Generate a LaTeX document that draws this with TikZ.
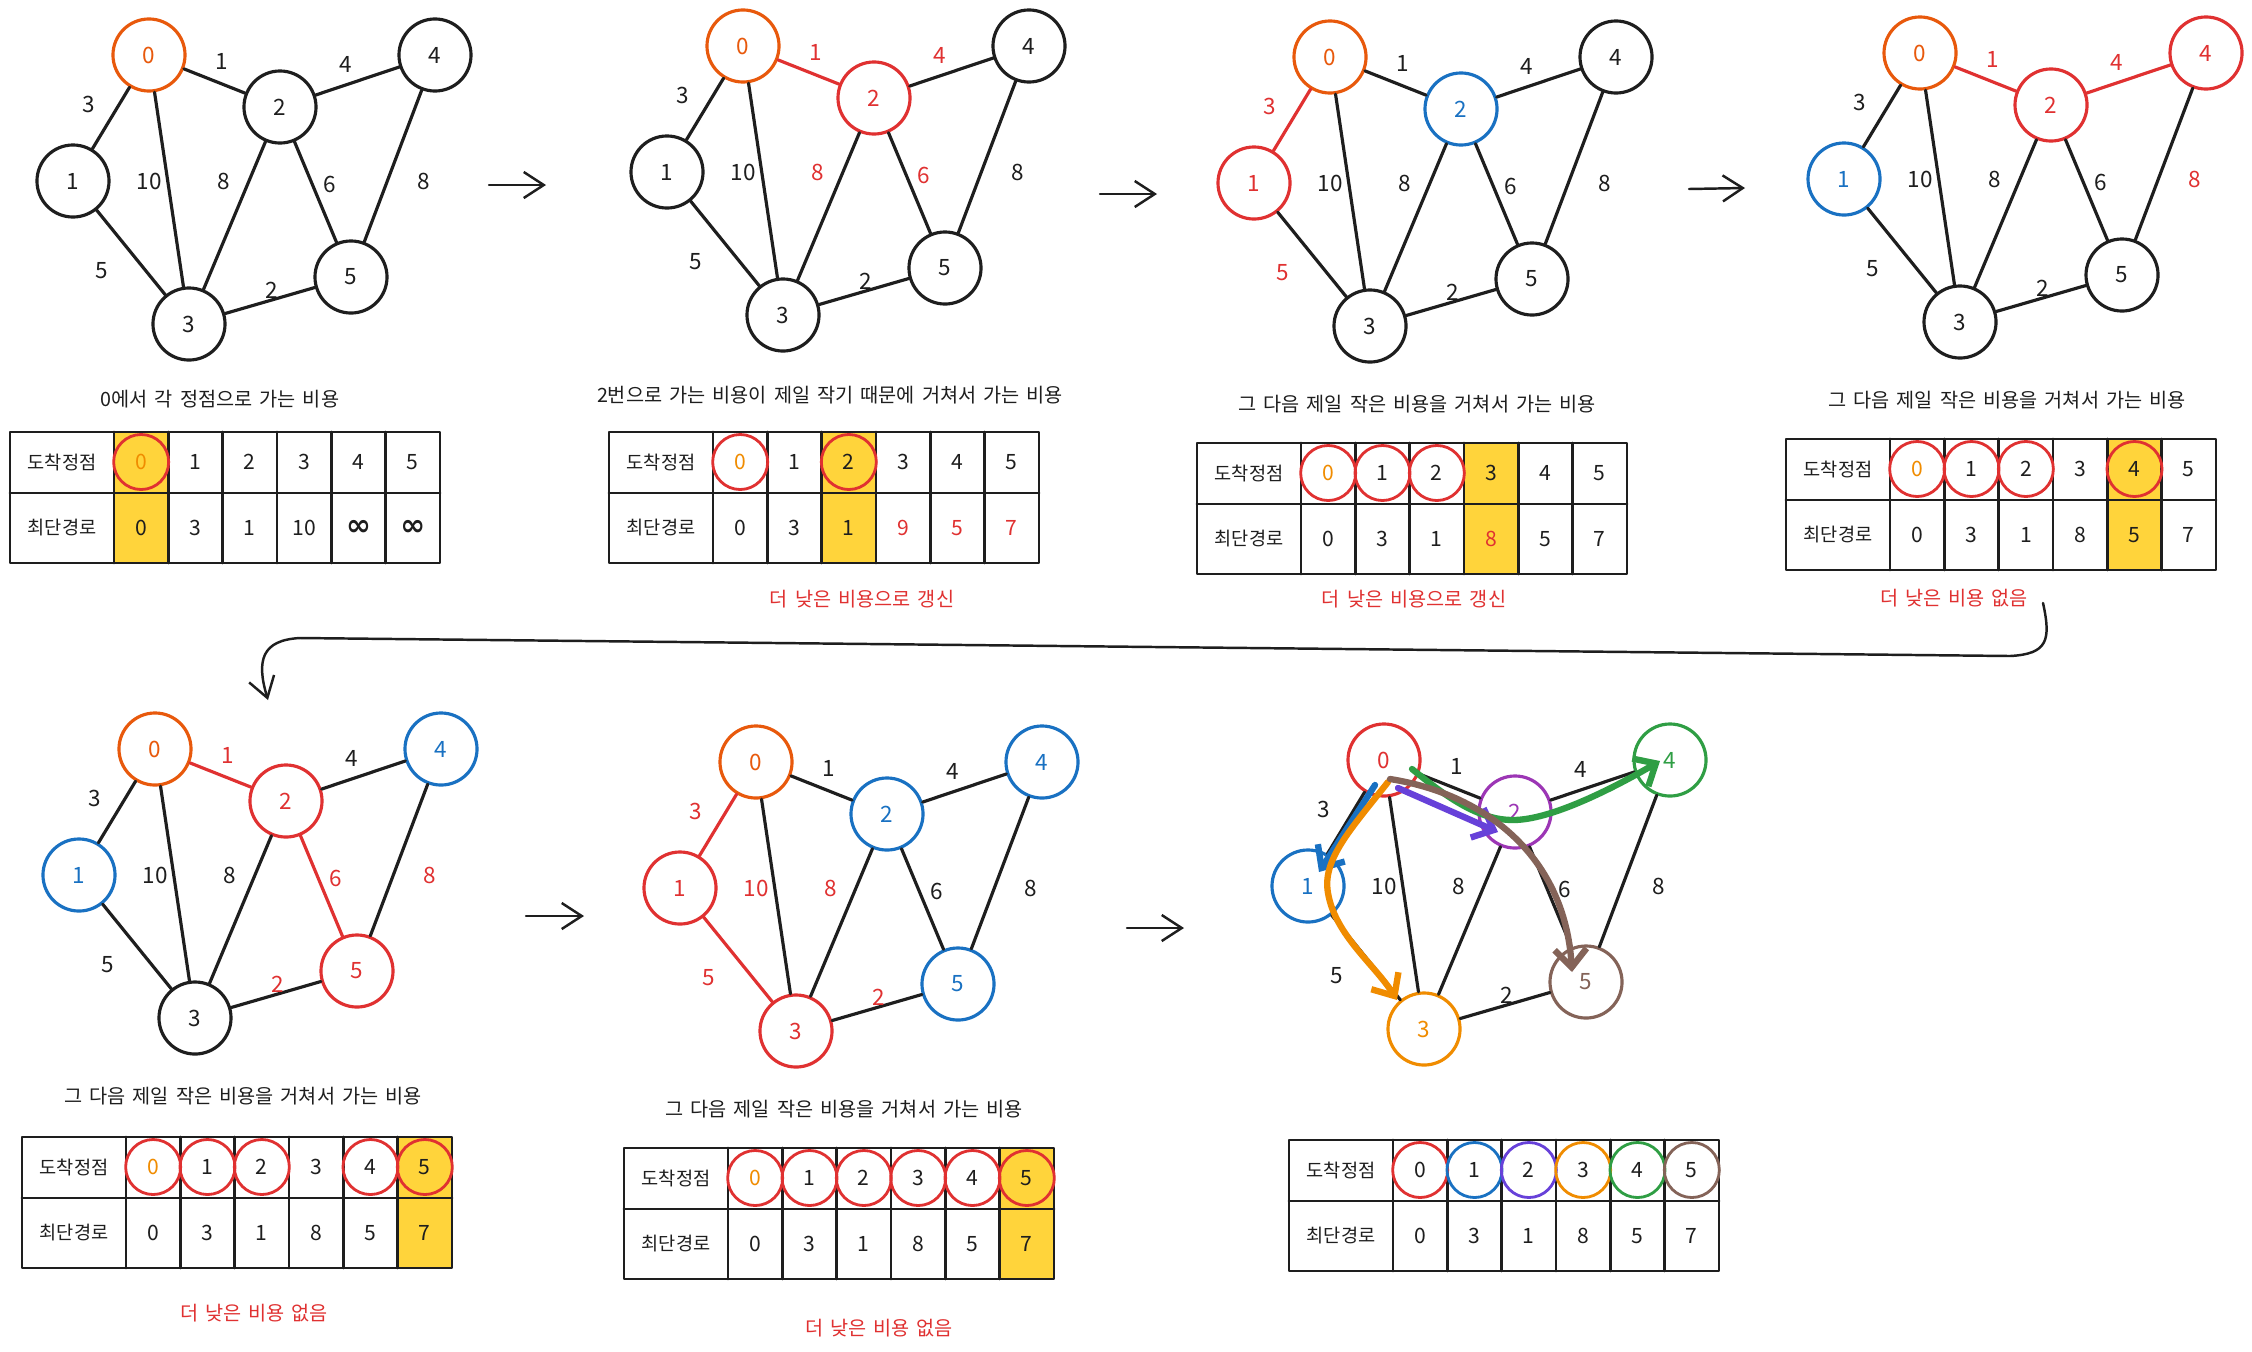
\documentclass[tikz,border=0pt]{standalone}
\usepackage{fontspec}
\setmainfont{Noto Sans CJK KR}
\newfontfamily\kofont[WordSpace=1.6]{Noto Sans CJK KR}
\newfontfamily\inffont{DejaVu Sans}
\usetikzlibrary{arrows.meta,calc}

\definecolor{cBlack}{HTML}{1E1E1E}
\definecolor{cOrange}{HTML}{E8590C}
\definecolor{cAmber}{HTML}{F08C00}
\definecolor{cRed}{HTML}{E03131}
\definecolor{cBlue}{HTML}{1971C2}
\definecolor{cPurple}{HTML}{9C36B5}
\definecolor{cViolet}{HTML}{6741D9}
\definecolor{cGreen}{HTML}{2F9E44}
\definecolor{cBrown}{HTML}{846358}
\definecolor{cYellow}{HTML}{FFD43B}

\tikzset{
  ink/.style={draw=#1, text=#1},
  vertex/.style={circle, ink=cBlack, line width=0.9pt, minimum size=7.2mm, inner sep=0pt,
    font=\fontsize{6.4}{7}\selectfont},
  edge/.style={draw=cBlack, line width=0.9pt},
  weight/.style={text=cBlack, font=\fontsize{6.4}{7}\selectfont},
  caption/.style={text=cBlack, font=\kofont\fontsize{5.6}{6.5}\selectfont},
  note/.style={caption, text=cRed},
  grid/.style={draw=cBlack, line width=0.8pt},
  cell/.style={text=cBlack, font=\fontsize{6}{7}\selectfont},
  rowhead/.style={text=cBlack, font=\fontsize{5.3}{6}\selectfont},
  pick/.style={circle, line width=0.8pt, minimum size=5.5mm, inner sep=0pt},
  flow/.style={draw=cBlack, line width=0.7pt, -{Straight Barb[length=2mm,width=2.6mm]}},
  path/.style={line width=1.8pt, -{Straight Barb[length=1.8mm,width=3.2mm]}},
  n0/.style={}, n1/.style={}, n2/.style={}, n3/.style={}, n4/.style={}, n5/.style={},
  e01/.style={}, e02/.style={}, e03/.style={}, e13/.style={}, e23/.style={},
  e24/.style={}, e25/.style={}, e35/.style={}, e45/.style={},
  w01/.style={}, w02/.style={}, w03/.style={}, w13/.style={}, w23/.style={},
  w24/.style={}, w25/.style={}, w35/.style={}, w45/.style={},
}

\newcommand{\inff}{{\inffont\bfseries\fontsize{8.5}{9}\selectfont ∞}}

% #1 name prefix, #2 offset from the first panel
\newcommand{\drawnet}[2]{%
  \foreach \v in {0,...,5}
    \node[vertex, n\v] (#1\v) at ($(v\v)+#2$) {\v};
  \foreach \a/\b/\w in {0/1/3,0/2/1,0/3/10,1/3/5,2/3/8,2/4/4,2/5/6,3/5/2,4/5/8} {
    \draw[edge, e\a\b] (#1\a) -- (#1\b);
    \node[weight, w\a\b] (#1w\a\b) at ($(l\a\b)+#2$) {\w};
  }
}

% #1 name prefix, #2 top left corner, #3 yellow column, #4 circled cells,
% #5 colour of the 0 on top, #6 distances
\newcommand{\disttable}[6]{%
  \begin{scope}[shift={#2}]
    \ifnum#3>-1 \fill[cYellow] ({104+54.33*#3},0) rectangle ({104+54.33*(#3+1)},131);\fi
    \draw[grid] (0,0) rectangle (430,131) (0,61) -- (430,61);
    \foreach \k in {0,...,5}
      \draw[grid] ({104+54.33*\k},0) -- ({104+54.33*\k},131);
    \node[rowhead] (#1h) at (52,30) {도착정점};
    \node[rowhead] (#1r) at (52,96) {최단경로};
    \node[cell, text=#5] (#1t0) at (131.2,30) {0};
    \foreach \i in {1,...,5}
      \node[cell] (#1t\i) at ({104+54.33*(\i+0.5)},30) {\i};
    \foreach \i/\c in {#4}
      \node[pick, draw=\c] (#1c\i) at ({104+54.33*(\i+0.5)},30) {};
    \foreach \d/\c [count=\i from 0] in {#6}
      \node[cell, text=\c] (#1d\i) at ({104+54.33*(\i+0.5)},96) {\d};
  \end{scope}
}

\begin{document}
\begin{tikzpicture}[x=0.01cm, y=-0.01cm, line cap=round, line join=round]
\useasboundingbox[fill=white] (0,0) rectangle (2252,1351);

% layout of the first panel
\path
  (149,55) coordinate (v0)
  (73,181) coordinate (v1)
  (280,107) coordinate (v2)
  (189,324) coordinate (v3)
  (435,55) coordinate (v4)
  (351,277) coordinate (v5)
  (89,104) coordinate (l01)
  (222,61) coordinate (l02)
  (149,181) coordinate (l03)
  (102,271) coordinate (l13)
  (224,181) coordinate (l23)
  (346,64) coordinate (l24)
  (330,184) coordinate (l25)
  (272,290) coordinate (l35)
  (424,181) coordinate (l45)
  ;

% graphs
\begin{scope}[n0/.style={ink=cOrange}]
  \drawnet{a}{(0,0)}
\end{scope}
\begin{scope}[n0/.style={ink=cOrange}, n2/.style={ink=cRed}, e02/.style={draw=cRed},
  w02/.style={text=cRed}, w23/.style={text=cRed}, w24/.style={text=cRed}, w25/.style={text=cRed}]
  \drawnet{b}{(594,-9)}
\end{scope}
\begin{scope}[n0/.style={ink=cOrange}, n1/.style={ink=cRed}, n2/.style={ink=cBlue},
  e01/.style={draw=cRed}, w01/.style={text=cRed}, w13/.style={text=cRed}]
  \drawnet{c}{(1181,2)}
\end{scope}
\begin{scope}[n0/.style={ink=cOrange}, n1/.style={ink=cBlue}, n2/.style={ink=cRed}, n4/.style={ink=cRed},
  e02/.style={draw=cRed}, e24/.style={draw=cRed},
  w02/.style={text=cRed}, w24/.style={text=cRed}, w45/.style={text=cRed}]
  \drawnet{d}{(1771,-2)}
\end{scope}
\begin{scope}[n0/.style={ink=cOrange}, n1/.style={ink=cBlue}, n2/.style={ink=cRed}, n4/.style={ink=cBlue},
  n5/.style={ink=cRed}, e02/.style={draw=cRed}, e25/.style={draw=cRed},
  w02/.style={text=cRed}, w25/.style={text=cRed}, w35/.style={text=cRed}, w45/.style={text=cRed}]
  \drawnet{e}{(6,694)}
\end{scope}
\begin{scope}[n0/.style={ink=cOrange}, n1/.style={ink=cRed}, n3/.style={ink=cRed}, n2/.style={ink=cBlue},
  n4/.style={ink=cBlue}, n5/.style={ink=cBlue}, e01/.style={draw=cRed}, e13/.style={draw=cRed},
  w01/.style={text=cRed}, w13/.style={text=cRed}, w03/.style={text=cRed}, w23/.style={text=cRed},
  w35/.style={text=cRed}]
  \drawnet{f}{(607,707)}
\end{scope}
\begin{scope}[n0/.style={ink=cRed}, n1/.style={ink=cBlue}, n2/.style={ink=cPurple}, n3/.style={ink=cAmber},
  n4/.style={ink=cGreen}, n5/.style={ink=cBrown}]
  \drawnet{g}{(1235,705)}
\end{scope}

% shortest paths of the last panel
\draw[path, cBlue] ($(g0)+(-9,25)$) -- ($(g1)+(11,-14)$);
\draw[path, cViolet] ($(g0)+(14,28)$) -- ($(g2)+(-17,20)$);
\draw[path, cAmber] ($(g0)+(4,22)$) .. controls (1350,830) and (1322,860) .. (1328,893)
  .. controls (1335,935) and (1375,965) .. ($(g3)+(-27,-29)$);
\draw[path, cGreen] ($(g0)+(28,9)$) .. controls (1450,800) and (1480,820) .. (1513,820)
  .. controls (1550,820) and (1610,790) .. ($(g4)+(-10,1)$);
\draw[path, cBrown] ($(g0)+(6,19)$) .. controls (1490,795) and (1565,860) .. ($(g5)+(-14,-10)$);

% tables
\disttable{ta}{(10,432)}{0}{0/cRed}{cAmber}
  {0/cBlack,3/cBlack,1/cBlack,10/cBlack,\inff/cBlack,\inff/cBlack}
\disttable{tb}{(609,432)}{2}{0/cRed,2/cRed}{cAmber}
  {0/cBlack,3/cBlack,1/cBlack,9/cRed,5/cRed,7/cRed}
\disttable{tc}{(1197,443)}{3}{0/cRed,1/cRed,2/cRed}{cAmber}
  {0/cBlack,3/cBlack,1/cBlack,8/cRed,5/cBlack,7/cBlack}
\disttable{td}{(1786,439)}{4}{0/cRed,1/cRed,2/cRed,4/cRed}{cAmber}
  {0/cBlack,3/cBlack,1/cBlack,8/cBlack,5/cBlack,7/cBlack}
\disttable{te}{(22,1137)}{5}{0/cRed,1/cRed,2/cRed,4/cRed,5/cRed}{cAmber}
  {0/cBlack,3/cBlack,1/cBlack,8/cBlack,5/cBlack,7/cBlack}
\disttable{tf}{(624,1148)}{5}{0/cRed,1/cRed,2/cRed,3/cRed,4/cRed,5/cRed}{cAmber}
  {0/cBlack,3/cBlack,1/cBlack,8/cBlack,5/cBlack,7/cBlack}
\disttable{tg}{(1289,1140)}{-1}{0/cRed,1/cBlue,2/cViolet,3/cAmber,4/cGreen,5/cBrown}{cBlack}
  {0/cBlack,3/cBlack,1/cBlack,8/cBlack,5/cBlack,7/cBlack}

% captions
\node[caption] (capa) at (220,399) {0에서 각 정점으로 가는 비용};
\node[caption] (capb) at (830,395) {2번으로 가는 비용이 제일 작기 때문에 거쳐서 가는 비용};
\node[caption] (capc) at (1417,404) {그 다음 제일 작은 비용을 거쳐서 가는 비용};
\node[caption] (capd) at (2007,400) {그 다음 제일 작은 비용을 거쳐서 가는 비용};
\node[caption] (cape) at (243,1096) {그 다음 제일 작은 비용을 거쳐서 가는 비용};
\node[caption] (capf) at (844,1109) {그 다음 제일 작은 비용을 거쳐서 가는 비용};
\node[note] (noteb) at (862,599) {더 낮은 비용으로 갱신};
\node[note] (notec) at (1414,599) {더 낮은 비용으로 갱신};
\node[note] (noted) at (1954,598) {더 낮은 비용 없음};
\node[note] (notee) at (254,1313) {더 낮은 비용 없음};
\node[note] (notef) at (879,1328) {더 낮은 비용 없음};

% steps
\path
  (489,185) coordinate (ab1) (546,185) coordinate (ab2)
  (1100,194) coordinate (bc1) (1157,194) coordinate (bc2)
  (1689,189) coordinate (cd1) (1745,188) coordinate (cd2)
  (2043,603) coordinate (de1) (268,700) coordinate (de2)
  (526,916) coordinate (ef1) (584,916) coordinate (ef2)
  (1127,928) coordinate (fg1) (1184,928) coordinate (fg2);
\draw[flow] (ab1) -- (ab2);
\draw[flow] (bc1) -- (bc2);
\draw[flow] (cd1) -- (cd2);
\draw[flow] (ef1) -- (ef2);
\draw[flow] (fg1) -- (fg2);
\draw[flow] (de1) .. controls (2051,640) and (2048,654) .. (2010,656) -- (300,638)
  .. controls (262,640) and (256,660) .. (de2);
\end{tikzpicture}
\end{document}
